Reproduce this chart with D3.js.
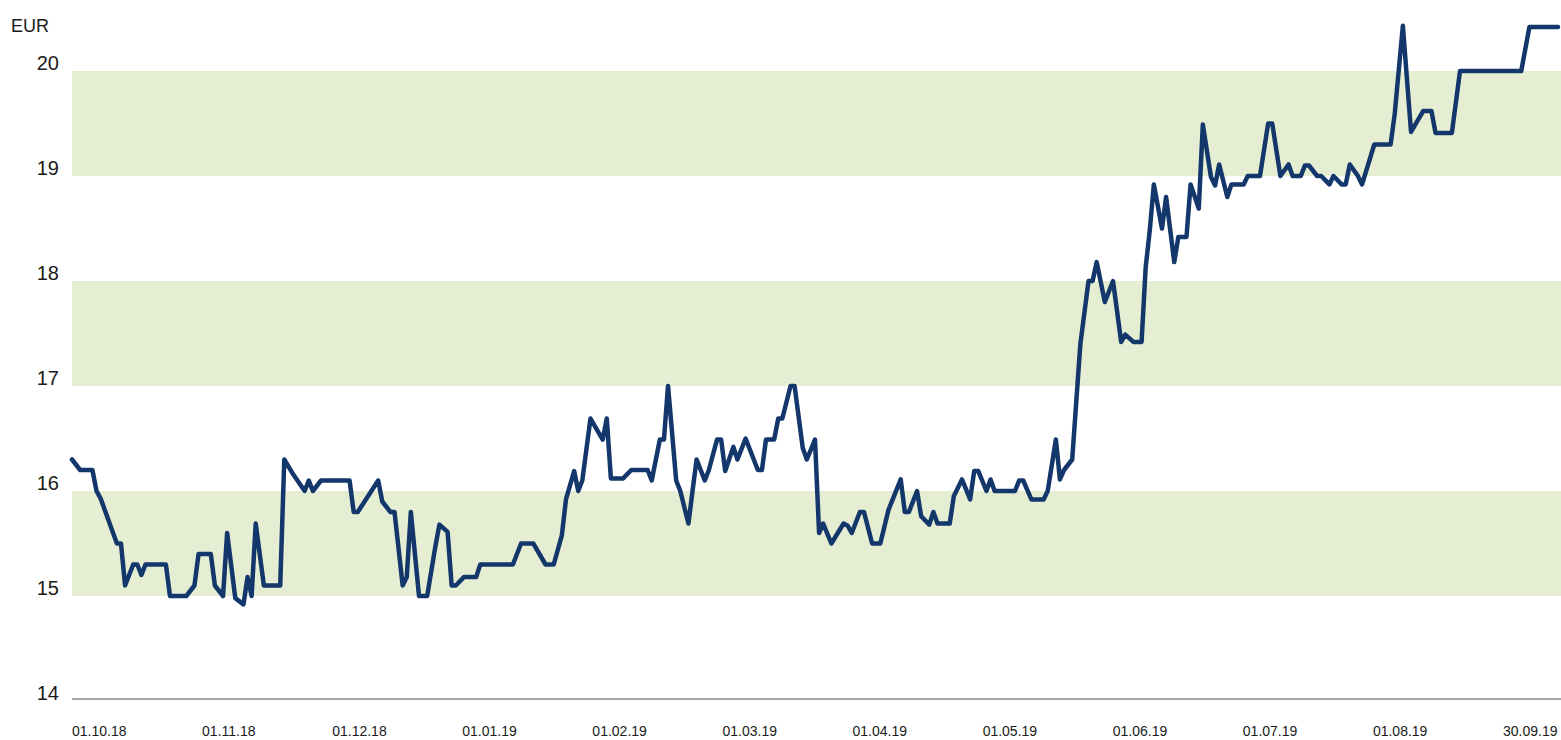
<!DOCTYPE html>
<html>
<head>
<meta charset="utf-8">
<script src="https://cdn.jsdelivr.net/npm/d3@7"></script>
<style>
  body { margin: 0; background: #fff; }
  svg { display: block; font-family: "Liberation Sans", Arial, sans-serif; }
</style>
</head>
<body>
<div id="chart"></div>
<script>
// x axis labels (evenly spaced, as in the source chart)
const dateLabels = ["01.10.18", "01.11.18", "01.12.18", "01.01.19", "01.02.19", "01.03.19",
                    "01.04.19", "01.05.19", "01.06.19", "01.07.19", "01.08.19", "30.09.19"];
const yTicks = [14, 15, 16, 17, 18, 19, 20];
const bands = [[15, 16], [17, 18], [19, 20]];

// day index since 01.10.18 and closing price (EUR)
const days = [0, 2, 5, 6, 7, 11, 12, 13, 15, 16, 17, 18, 23, 24, 28, 30, 31, 34, 35, 37,
  38, 40, 42, 43, 44, 45, 47, 51, 52, 54, 57, 58, 59, 61, 68, 69, 70, 75, 76, 78,
  79, 81, 82, 83, 85, 87, 89, 90, 92, 93, 94, 96, 99, 100, 108, 110, 113, 116, 118, 120,
  121, 123, 124, 125, 127, 130, 131, 132, 135, 137, 141, 142, 144, 145, 146, 148, 149, 151, 152, 153,
  155, 156, 158, 159, 160, 162, 163, 165, 168, 169, 170, 172, 173, 174, 176, 177, 179, 180, 182, 183,
  184, 186, 189, 190, 191, 193, 194, 196, 198, 200, 203, 204, 205, 207, 208, 210, 211, 212, 215, 216,
  218, 220, 221, 222, 224, 225, 226, 231, 232, 233, 235, 238, 239, 241, 242, 243, 245, 246, 247, 249,
  250, 251, 253, 255, 257, 258, 260, 262, 263, 264, 265, 267, 268, 270, 271, 273, 274, 276, 277, 279,
  280, 281, 283, 284, 287, 288, 291, 293, 294, 296, 298, 299, 301, 302, 303, 305, 306, 308, 309, 311,
  312, 313, 315, 316, 319, 323, 324, 326, 328, 331, 333, 334, 338, 340, 355, 357, 364];
const prices = [16.3, 16.2, 16.2, 16.0, 15.93, 15.5, 15.5, 15.1, 15.3, 15.3, 15.2, 15.3, 15.3, 15.0, 15.0, 15.1, 15.4, 15.4, 15.1, 15.0,
  15.6, 14.98, 14.92, 15.18, 15.0, 15.69, 15.1, 15.1, 16.3, 16.17, 16.0, 16.1, 16.0, 16.1, 16.1, 15.8, 15.8, 16.1, 15.9, 15.8,
  15.8, 15.1, 15.18, 15.8, 15.0, 15.0, 15.47, 15.68, 15.61, 15.1, 15.1, 15.18, 15.18, 15.3, 15.3, 15.5, 15.5, 15.3, 15.3, 15.58,
  15.92, 16.19, 16.0, 16.1, 16.69, 16.49, 16.69, 16.12, 16.12, 16.2, 16.2, 16.1, 16.49, 16.49, 17.0, 16.1, 16.0, 15.69, 16.0, 16.3,
  16.1, 16.2, 16.49, 16.49, 16.19, 16.42, 16.3, 16.5, 16.2, 16.2, 16.49, 16.49, 16.69, 16.69, 17.0, 17.0, 16.41, 16.3, 16.49, 15.6,
  15.69, 15.5, 15.69, 15.67, 15.6, 15.8, 15.8, 15.5, 15.5, 15.82, 16.11, 15.8, 15.8, 16.0, 15.76, 15.68, 15.8, 15.69, 15.69, 15.95,
  16.11, 15.92, 16.19, 16.19, 16.0, 16.11, 16.0, 16.0, 16.1, 16.1, 15.92, 15.92, 16.0, 16.49, 16.11, 16.2, 16.3, 16.85, 17.4, 18.0,
  18.0, 18.18, 17.8, 18.0, 17.42, 17.49, 17.42, 17.42, 18.13, 18.48, 18.92, 18.5, 18.8, 18.18, 18.42, 18.42, 18.92, 18.69, 19.49, 18.99,
  18.91, 19.11, 18.8, 18.92, 18.92, 19.0, 19.0, 19.5, 19.5, 19.0, 19.11, 19.0, 19.0, 19.1, 19.1, 19.0, 19.0, 18.92, 19.0, 18.92,
  18.92, 19.11, 19.0, 18.92, 19.3, 19.3, 19.59, 20.43, 19.42, 19.62, 19.62, 19.41, 19.41, 20.0, 20.0, 20.42, 20.42];

const W = 1561, H = 740;
const plot = { left: 72, right: 1558, top: 71, bottom: 701 };

const svg = d3.select("#chart").append("svg")
    .attr("width", W)
    .attr("height", H);

const x = d3.scaleLinear().domain([0, 364]).range([plot.left, plot.right]);
const y = d3.scaleLinear().domain([14, 20]).range([plot.bottom, plot.top]);
const xLab = d3.scalePoint().domain(dateLabels).range([72, 1503]);

// green bands
svg.selectAll(".band")
    .data(bands)
    .enter().append("rect")
    .attr("class", "band")
    .attr("x", plot.left)
    .attr("width", W - plot.left)
    .attr("y", d => y(d[1]))
    .attr("height", d => y(d[0]) - y(d[1]))
    .attr("fill", "#e5eed3");

// baseline
svg.append("line")
    .attr("x1", plot.left)
    .attr("x2", W)
    .attr("y1", y(14) - 2)
    .attr("y2", y(14) - 2)
    .attr("stroke", "#8a8a8a")
    .attr("stroke-width", 1.5);

// y labels
svg.selectAll(".ylab")
    .data(yTicks)
    .enter().append("text")
    .attr("class", "ylab")
    .attr("x", 59)
    .attr("y", d => y(d) - 1)
    .attr("text-anchor", "end")
    .attr("font-size", 20)
    .attr("fill", "#1a1a1a")
    .text(d => d);

svg.append("text")
    .attr("x", 11)
    .attr("y", 32)
    .attr("font-size", 18)
    .attr("fill", "#1a1a1a")
    .text("EUR");

// x labels
svg.selectAll(".xlab")
    .data(dateLabels)
    .enter().append("text")
    .attr("class", "xlab")
    .attr("x", d => xLab(d))
    .attr("y", 736)
    .attr("font-size", 14)
    .attr("fill", "#1a1a1a")
    .text(d => d);

const series = days.map((d, i) => ({ day: d, value: prices[i] }));

const line = d3.line()
    .x(d => x(d.day))
    .y(d => y(d.value));

svg.append("path")
    .datum(series)
    .attr("d", line)
    .attr("fill", "none")
    .attr("stroke", "#13376b")
    .attr("stroke-width", 4.5)
    .attr("stroke-linejoin", "round")
    .attr("stroke-linecap", "round");
</script>
</body>
</html>
